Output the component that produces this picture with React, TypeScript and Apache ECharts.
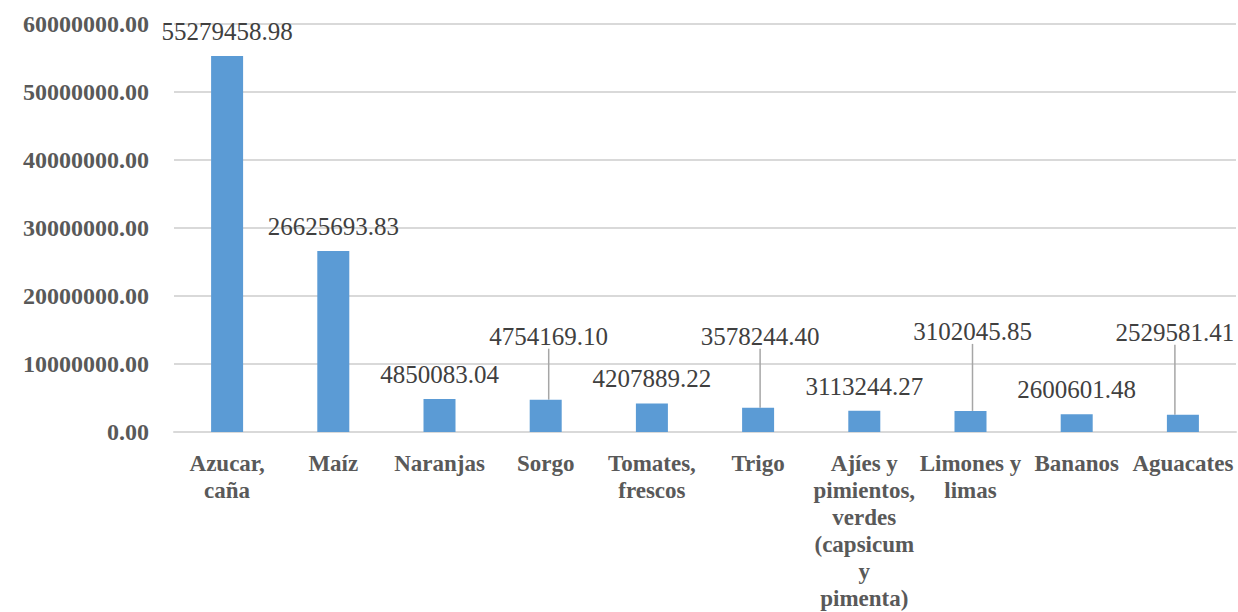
import React, { useEffect, useRef } from "react";
import * as echarts from "echarts";

const categories = [
  "Azucar,\ncaña",
  "Maíz",
  "Naranjas",
  "Sorgo",
  "Tomates,\nfrescos",
  "Trigo",
  "Ajíes y\npimientos,\nverdes\n(capsicum\ny\npimenta)",
  "Limones y\nlimas",
  "Bananos",
  "Aguacates",
];

const values = [
  55279458.98, 26625693.83, 4850083.04, 4754169.1, 4207889.22, 3578244.4,
  3113244.27, 3102045.85, 2600601.48, 2529581.41,
];

const yTicks = [0, 10000000, 20000000, 30000000, 40000000, 50000000, 60000000];

// label displacement (dx, dy) for the labels that use leader lines
const labelShift: Record<number, [number, number]> = {
  3: [3, -39],
  5: [2, -47],
  7: [2, -55],
  9: [-8, -58],
};

const FONT = "Liberation Serif";

export default function App() {
  const ref = useRef<HTMLDivElement>(null);
  useEffect(() => {
    if (!ref.current) return;
    const chart = echarts.init(ref.current, null, { renderer: "svg" });
    chart.setOption({
      animation: false,
      textStyle: { fontFamily: FONT },
      grid: { left: 174, right: 2, top: 24, bottom: 176, containLabel: false },
      xAxis: {
        type: "category",
        data: categories,
        axisLine: { show: true, lineStyle: { color: "#d9d9d9", width: 2 } },
        axisTick: { show: false },
        axisLabel: {
          interval: 0,
          margin: 18,
          color: "#595959",
          fontFamily: FONT,
          fontWeight: "bold",
          fontSize: 23,
          lineHeight: 27,
          align: "center",
        },
      },
      yAxis: {
        type: "value",
        min: yTicks[0],
        max: yTicks[yTicks.length - 1],
        interval: yTicks[1] - yTicks[0],
        axisLine: { show: false },
        axisTick: { show: false },
        splitLine: { lineStyle: { color: "#d9d9d9", width: 2 } },
        axisLabel: {
          margin: 25,
          color: "#595959",
          fontFamily: FONT,
          fontWeight: "bold",
          fontSize: 24,
          formatter: (v: number) => v.toFixed(2),
        },
      },
      series: [
        {
          type: "bar",
          barWidth: 32,
          itemStyle: { color: "#5b9bd5" },
          data: values.map((v, i) => ({
            value: v,
            labelLine: { show: labelShift[i] != null },
          })),
          label: {
            show: true,
            position: "top",
            distance: 12,
            color: "#404040",
            fontFamily: FONT,
            fontSize: 25,
            formatter: (p: any) => Number(p.value).toFixed(2),
          },
          labelLine: {
            show: false,
            lineStyle: { color: "#a6a6a6", width: 1.5 },
          },
          labelLayout: (p: any) => {
            const s = labelShift[p.dataIndex];
            return s ? { dx: s[0], dy: s[1] } : {};
          },
        },
      ],
    });
    return () => chart.dispose();
  }, []);
  return (
    <div
      ref={ref}
      style={{ position: "fixed", left: 0, top: 0, width: 1238, height: 612, background: "#fff" }}
    />
  );
}
